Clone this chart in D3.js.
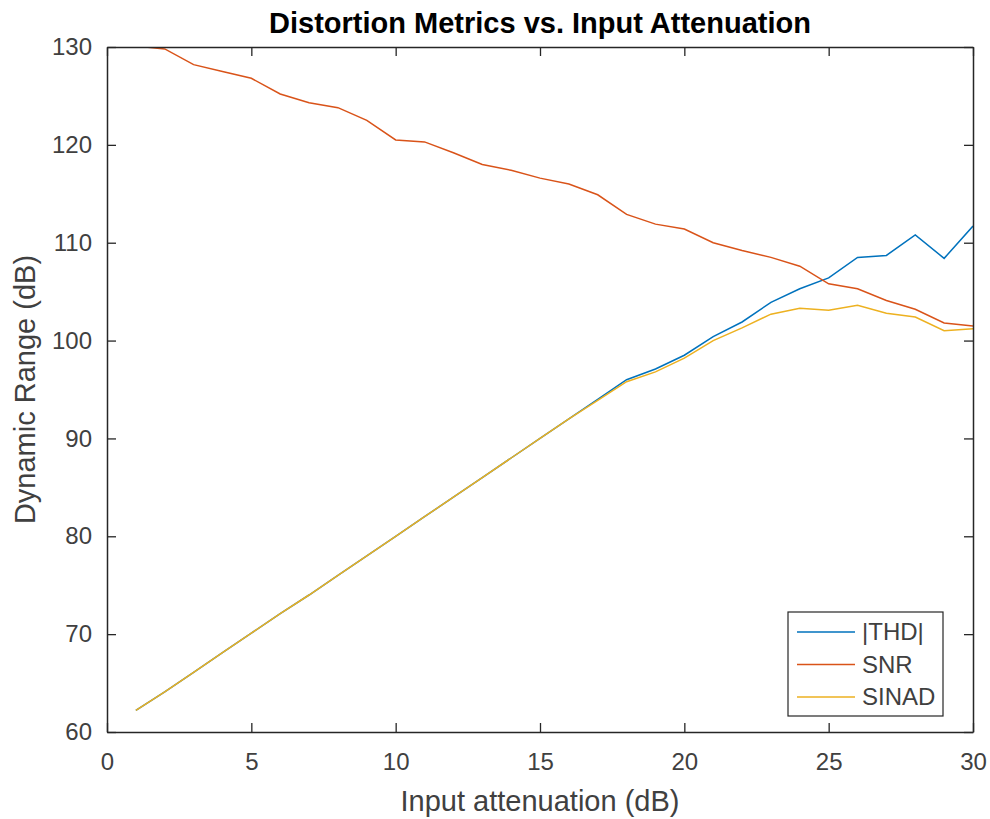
<!DOCTYPE html>
<html>
<head>
<meta charset="utf-8">
<script src="https://cdn.jsdelivr.net/npm/d3@7"></script>
<style>
  body { margin: 0; background: #fff; }
  svg { font-family: "Liberation Sans", Arial, sans-serif; }
</style>
</head>
<body>
<div id="chart"></div>
<script>
// Data
const attenuation = d3.range(1, 31);
const thd = [62.2, 64.1, 66.1, 68.1, 70.1, 72.1, 74.0, 76.0, 78.0, 80.0,
             82.0, 84.0, 86.0, 88.0, 90.0, 92.0, 94.0, 96.0, 97.1, 98.5,
             100.4, 101.9, 103.9, 105.3, 106.4, 108.5, 108.7, 110.8, 108.4, 111.7];
const snr = [130.1, 129.8, 128.2, 127.5, 126.8, 125.2, 124.3, 123.8, 122.5, 120.5,
             120.3, 119.2, 118.0, 117.4, 116.6, 116.0, 114.9, 112.9, 111.9, 111.4,
             110.0, 109.2, 108.5, 107.6, 105.8, 105.3, 104.1, 103.2, 101.8, 101.5];
const sinad = [62.2, 64.1, 66.1, 68.1, 70.1, 72.1, 74.0, 76.0, 78.0, 80.0,
               82.0, 84.0, 86.0, 88.0, 90.0, 92.0, 93.9, 95.8, 96.8, 98.2,
               100.0, 101.3, 102.7, 103.3, 103.1, 103.6, 102.8, 102.4, 101.0, 101.2];
const seriesNames = ["|THD|", "SNR", "SINAD"];
const seriesColors = ["#0072BD", "#D95319", "#EDB120"];
const xTicks = [0, 5, 10, 15, 20, 25, 30];
const yTicks = [60, 70, 80, 90, 100, 110, 120, 130];

const margin = {top: 47, right: 17, bottom: 87, left: 107},
    width = 990 - margin.left - margin.right,
    height = 819 - margin.top - margin.bottom;

const x = d3.scaleLinear().domain([0, 30]).range([0, width]);
const y = d3.scaleLinear().domain([60, 130]).range([height, 0]);

const svg = d3.select("#chart")
    .append("svg")
    .attr("width", 990)
    .attr("height", 819);

const g = svg.append("g")
    .attr("transform", "translate(" + margin.left + "," + margin.top + ")");

const axisColor = "#262626";
const tickLen = 9;

// Series lines
const series = [thd, snr, sinad];
const line = d3.line()
    .x((d, i) => x(attenuation[i]))
    .y(d => y(d));

g.append("defs").append("clipPath").attr("id", "clip")
    .append("rect").attr("width", width).attr("height", height);

series.forEach((s, k) => {
    g.append("path")
        .datum(s)
        .attr("clip-path", "url(#clip)")
        .attr("fill", "none")
        .attr("stroke", seriesColors[k])
        .attr("stroke-width", 1.5)
        .attr("d", line);
});

// Axes (ticks inward, box on all sides)
const styleAxis = sel => {
    sel.select(".domain").attr("stroke", axisColor).attr("stroke-width", 1.5);
    sel.selectAll(".tick line").attr("stroke", axisColor).attr("stroke-width", 1.3);
    sel.selectAll(".tick text").attr("fill", "#404040").style("font-size", "24px");
};

g.append("g")
    .attr("transform", "translate(0," + height + ")")
    .call(d3.axisBottom(x).tickValues(xTicks).tickSize(-tickLen).tickSizeOuter(0).tickPadding(21))
    .call(styleAxis);

g.append("g")
    .call(d3.axisTop(x).tickValues(xTicks).tickSize(-tickLen).tickSizeOuter(0).tickFormat(""))
    .call(styleAxis);

g.append("g")
    .call(d3.axisLeft(y).tickValues(yTicks).tickSize(-tickLen).tickSizeOuter(0).tickPadding(15))
    .call(styleAxis);

g.append("g")
    .attr("transform", "translate(" + width + ",0)")
    .call(d3.axisRight(y).tickValues(yTicks).tickSize(-tickLen).tickSizeOuter(0).tickFormat(""))
    .call(styleAxis);

// Title and labels
svg.append("text")
    .attr("x", margin.left + width / 2)
    .attr("y", 33)
    .attr("text-anchor", "middle")
    .attr("fill", "#000")
    .style("font-size", "29px")
    .style("font-weight", "bold")
    .text("Distortion Metrics vs. Input Attenuation");

svg.append("text")
    .attr("x", margin.left + width / 2)
    .attr("y", 811)
    .attr("text-anchor", "middle")
    .attr("fill", "#404040")
    .style("font-size", "29px")
    .text("Input attenuation (dB)");

svg.append("text")
    .attr("transform", "rotate(-90)")
    .attr("x", -(margin.top + height / 2))
    .attr("y", 35)
    .attr("text-anchor", "middle")
    .attr("fill", "#404040")
    .style("font-size", "29px")
    .text("Dynamic Range (dB)");

// Legend
const legend = svg.append("g").attr("transform", "translate(788,612)");
legend.append("rect")
    .attr("width", 155)
    .attr("height", 104)
    .attr("fill", "#fff")
    .attr("stroke", axisColor)
    .attr("stroke-width", 1.2);

seriesNames.forEach((name, k) => {
    const row = legend.append("g").attr("transform", "translate(0," + (20 + k * 32.5) + ")");
    row.append("line")
        .attr("x1", 9).attr("x2", 67)
        .attr("stroke", seriesColors[k])
        .attr("stroke-width", 1.5);
    row.append("text")
        .attr("x", 74)
        .attr("dy", "0.35em")
        .attr("fill", "#404040")
        .style("font-size", "24px")
        .text(name);
});
</script>
</body>
</html>
